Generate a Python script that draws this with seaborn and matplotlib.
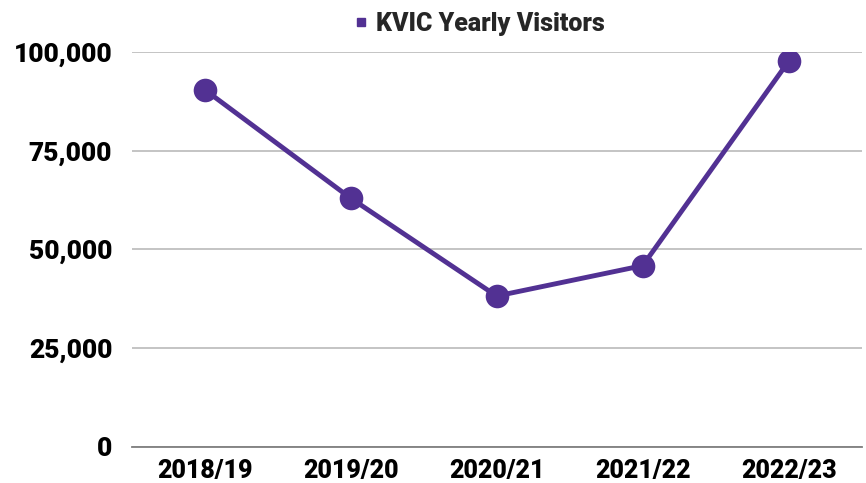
import pandas as pd
import matplotlib
matplotlib.use("Agg")
import matplotlib.pyplot as plt
from matplotlib.lines import Line2D
from matplotlib.ticker import FuncFormatter
import seaborn as sns

# Data
Years = ['2018/19', '2019/20', '2020/21', '2021/22', '2022/23']
Visitors = [90500, 63000, 38200, 45900, 97700]
YTicks = [0, 25000, 50000, 75000, 100000]

Purple = '#523193'
GridGrey = '#BFBFBF'

sns.set_theme(style='white', rc={'figure.figsize': (8.66, 4.83)})
plt.rcParams['font.family'] = ['Roboto', 'DejaVu Sans']
plt.rcParams['font.weight'] = 'bold'

df = pd.DataFrame({'Year': Years, 'Visitors': Visitors})
df['Pos'] = range(len(df))

fig = plt.figure(dpi=100)
ax = fig.add_axes([0.152, 0.075, 0.843, 0.817])

sns.lineplot(ax=ax, data=df, x='Pos', y='Visitors', color=Purple, linewidth=3.5,
             marker='o', markersize=17, markeredgewidth=0, zorder=3)

ax.set_xlim(-0.5, len(Years) - 0.5)
ax.set_ylim(0, 100000)
ax.set_xticks(df['Pos'])
ax.set_xticklabels(Years)
ax.set_yticks(YTicks)
ax.yaxis.set_major_formatter(FuncFormatter(lambda v, p: f'{int(v):,}'))
ax.set_xlabel('')
ax.set_ylabel('')

ax.grid(axis='y', color=GridGrey, linewidth=1.3)
ax.set_axisbelow(True)
for s in ['top', 'right', 'left']:
    ax.spines[s].set_visible(False)
ax.spines['bottom'].set_color('#7F7F7F')
ax.spines['bottom'].set_linewidth(1.3)
ax.tick_params(axis='both', length=0, colors='black')
ax.tick_params(axis='y', pad=14, labelsize=19)
ax.tick_params(axis='x', pad=9, labelsize=18)
for lab in ax.get_xticklabels() + ax.get_yticklabels():
    lab.set_fontweight('black')

handle = Line2D([], [], linestyle='none', marker='s', markersize=5.5, color=Purple)
fig.legend([handle], ['KVIC Yearly Visitors'], loc='center', bbox_to_anchor=(0.553, 0.95),
           frameon=False, handletextpad=0.3, handlelength=0.6,
           prop={'size': 18, 'weight': 'black'})

fig.savefig('out.png', dpi=100)
